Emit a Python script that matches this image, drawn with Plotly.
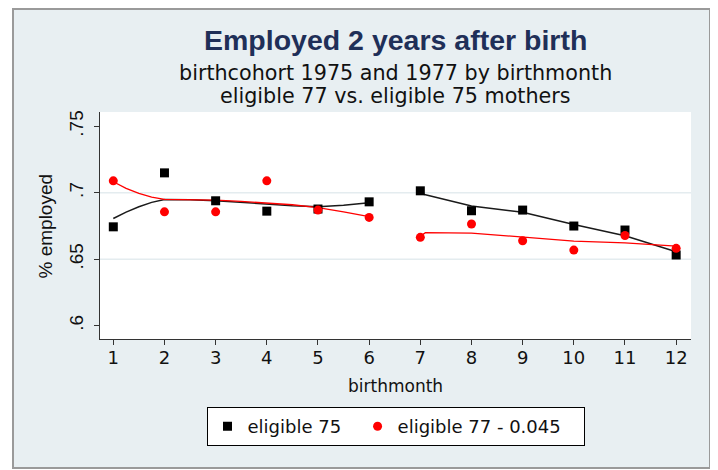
import plotly.graph_objects as go

months = [1, 2, 3, 4, 5, 6, 7, 8, 9, 10, 11, 12]
elig75 = [0.6744, 0.715, 0.694, 0.6862, 0.6878, 0.6932, 0.7015, 0.6865, 0.687, 0.675, 0.672, 0.6532]
elig77_adj = [0.709, 0.6857, 0.6857, 0.709, 0.687, 0.6815, 0.6665, 0.6765, 0.6639, 0.6569, 0.6679, 0.6582]

# smoothed fit lines, before / after the cut-off
fit_x_pre = [1, 1.25, 1.5, 1.75, 2, 2.5, 3, 3.5, 4, 4.5, 5, 5.5, 6]
fit75_pre = [0.6807, 0.6855, 0.6895, 0.6928, 0.695, 0.6948, 0.694, 0.6927, 0.6913, 0.6903, 0.6895, 0.6907, 0.6925]
fit77_pre = [0.7083, 0.7033, 0.6995, 0.6968, 0.695, 0.6948, 0.6945, 0.6935, 0.6925, 0.691, 0.6888, 0.6857, 0.682]
fit75_x_post = [7, 8, 9, 10, 11, 12]
fit75_post = [0.6995, 0.690, 0.6853, 0.6762, 0.6677, 0.6556]
fit77_x_post = [7, 7.1, 8, 8.5, 9, 9.6, 10, 11, 12]
fit77_post = [0.6674, 0.670, 0.6697, 0.6682, 0.6665, 0.6652, 0.6637, 0.6624, 0.6599]

y_ticks = [0.6, 0.65, 0.7, 0.75]
y_tick_text = [".6", ".65", ".7", ".75"]

NB = "\u00a0"
legend_names = ["eligible 75" + NB * 2, "eligible 77 - 0.045" + NB * 3]

BG = "#e8eff2"
GRID = "#e4ecef"
NAVY = "#1f2f58"
TXT = "#111111"

# page is offset by the 8px body margin; work in figure pixel coordinates
OFF = 8
W, H = 710, 462
L, R, T, B = 100 - OFF, 691 - OFF, 112 - OFF, 339 - OFF
pw, ph = R - L, B - T
def px(x):
    return (x - OFF - L) / pw
def py(y):
    return (B - (y - OFF)) / ph

fig = go.Figure()

fig.add_trace(go.Scatter(x=fit_x_pre, y=fit75_pre, mode="lines",
                         line=dict(color="#1a1a1a", width=1.5), showlegend=False, hoverinfo="skip"))
fig.add_trace(go.Scatter(x=fit75_x_post, y=fit75_post, mode="lines",
                         line=dict(color="#1a1a1a", width=1.5), showlegend=False, hoverinfo="skip"))
fig.add_trace(go.Scatter(x=fit_x_pre, y=fit77_pre, mode="lines",
                         line=dict(color="#ff0000", width=1.3), showlegend=False, hoverinfo="skip"))
fig.add_trace(go.Scatter(x=fit77_x_post, y=fit77_post, mode="lines",
                         line=dict(color="#ff0000", width=1.3), showlegend=False, hoverinfo="skip"))

fig.add_trace(go.Scatter(x=months, y=elig75, mode="markers", name=legend_names[0],
                         marker=dict(symbol="square", size=9, color="#000000")))
fig.add_trace(go.Scatter(x=months, y=elig77_adj, mode="markers", name=legend_names[1],
                         marker=dict(symbol="circle", size=9, color="#ff0000")))

shapes = [
    # outer graph region with grey frame
    dict(type="rect", xref="paper", yref="paper", x0=px(13), x1=px(710), y0=py(468), y1=py(OFF + 1),
         fillcolor=BG, line=dict(color="#9a9a9a", width=2), layer="below"),
    # white plot region
    dict(type="rect", xref="paper", yref="paper", x0=0, x1=1, y0=0, y1=1,
         fillcolor="white", line=dict(width=0), layer="below"),
]
for v in y_ticks[1:-1]:
    shapes.append(dict(type="line", xref="paper", yref="y", x0=0, x1=1, y0=v, y1=v,
                       line=dict(color=GRID, width=1.5), layer="below"))

annotations = [
    dict(text="<b>Employed 2 years after birth</b>", xref="paper", yref="paper", x=0.5, y=py(40),
         showarrow=False, font=dict(family="Liberation Sans", size=28.5, color=NAVY), yanchor="middle"),
    dict(text="birthcohort 1975 and 1977 by birthmonth", xref="paper", yref="paper", x=0.5, y=py(72.5),
         showarrow=False, font=dict(family="DejaVu Sans", size=20.7, color=TXT), yanchor="middle"),
    dict(text="eligible 77 vs. eligible 75 mothers", xref="paper", yref="paper", x=0.5, y=py(95.8),
         showarrow=False, font=dict(family="DejaVu Sans", size=20.7, color=TXT), yanchor="middle"),
    dict(text="birthmonth", xref="paper", yref="paper", x=0.5, y=py(386),
         showarrow=False, font=dict(family="DejaVu Sans", size=17, color=TXT), yanchor="middle"),
    dict(text="% employed", xref="paper", yref="paper", x=px(45), y=0.5, textangle=-90,
         showarrow=False, font=dict(family="Liberation Sans", size=19, color=TXT),
         xanchor="center", yanchor="middle"),
]

fig.update_layout(
    width=W, height=H,
    margin=dict(l=L, r=W - R, t=T, b=H - B),
    paper_bgcolor="white", plot_bgcolor="white",
    shapes=shapes, annotations=annotations,
    showlegend=True,
    legend=dict(orientation="h", x=0.5, xanchor="center", y=py(407), yanchor="top",
                bgcolor="white", bordercolor="#000000", borderwidth=1,
                font=dict(family="DejaVu Sans", size=18, color=TXT),
                itemwidth=30, tracegroupgap=0),
    xaxis=dict(range=[0.74, 12.29], tickmode="array", tickvals=months,
               ticktext=[str(m) for m in months], ticks="outside", ticklen=5, ticklabelstandoff=-3,
               tickcolor="#333333", showline=True, linecolor="#333333", linewidth=1,
               showgrid=False, zeroline=False, tickfont=dict(family="DejaVu Sans", size=18, color=TXT)),
    yaxis=dict(range=[0.59, 0.7608], tickmode="array", tickvals=y_ticks, ticktext=y_tick_text,
               ticks="outside", ticklen=5, tickcolor="#333333", tickangle=-90, ticklabelstandoff=3,
               showline=True, linecolor="#333333", linewidth=1, showgrid=False, zeroline=False,
               tickfont=dict(family="Liberation Sans", size=19, color=TXT)),
)

fig.write_html("out.html")
